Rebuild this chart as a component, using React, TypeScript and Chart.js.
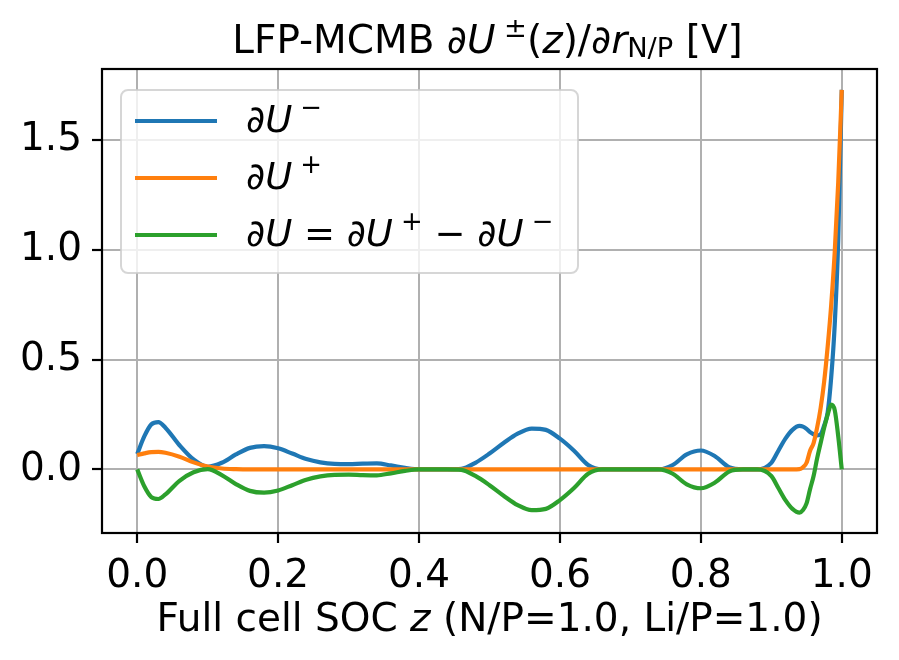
import React, { useEffect, useRef } from 'react';
import { Chart, registerables } from 'chart.js';

Chart.register(...registerables);

// Full cell SOC z (sample positions)
const socZ = [
  0, 0.01, 0.02, 0.03, 0.04, 0.06, 0.08, 0.10,
  0.12, 0.14, 0.16, 0.18, 0.20, 0.22, 0.24, 0.26, 0.28, 0.30, 0.32, 0.34, 0.36, 0.38, 0.40,
  0.42, 0.44, 0.46, 0.48, 0.50, 0.52, 0.54, 0.56, 0.58, 0.60, 0.62, 0.64, 0.66,
  0.70, 0.74,
  0.76, 0.78, 0.80, 0.82, 0.84, 0.86, 0.88, 0.90,
  0.91, 0.92, 0.93, 0.94,
  0.945, 0.95, 0.955, 0.96, 0.965, 0.97, 0.975, 0.98, 0.985, 0.99, 0.995, 1.0,
];

// dU- (blue)
const dUneg = [
  0.07, 0.15, 0.205, 0.215, 0.19, 0.11, 0.045, 0.012,
  0.03, 0.068, 0.098, 0.106, 0.096, 0.072, 0.047, 0.032, 0.025, 0.024, 0.026, 0.027, 0.018, 0.007, 0,
  0, 0, 0.002, 0.03, 0.072, 0.12, 0.163, 0.186, 0.18, 0.14, 0.085, 0.02, 0,
  0, 0,
  0.02, 0.068, 0.086, 0.06, 0.01, 0, 0, 0.03,
  0.085, 0.14, 0.18, 0.198,
  0.195, 0.185, 0.17, 0.16, 0.155, 0.16, 0.2, 0.26, 0.42, 0.66, 1.05, 1.73,
];

// dU+ (orange)
const dUpos = [
  0.065, 0.073, 0.079, 0.08, 0.076, 0.058, 0.032, 0.013,
  0.004, 0.001, 0, 0, 0, 0, 0, 0, 0, 0, 0, 0, 0, 0, 0,
  0, 0, 0, 0, 0, 0, 0, 0, 0, 0, 0, 0, 0,
  0, 0,
  0, 0, 0, 0, 0, 0, 0, 0,
  0, 0, 0, 0.001,
  0.01, 0.03, 0.085, 0.12, 0.19, 0.28, 0.4, 0.56, 0.75, 0.99, 1.31, 1.73,
];

// dU = dU+ - dU- (green)
const dUdiff = [
  0, -0.077, -0.126, -0.135, -0.114, -0.052, -0.013, 0.001,
  -0.026, -0.067, -0.098, -0.106, -0.096, -0.072, -0.047, -0.032, -0.025, -0.024, -0.026, -0.027, -0.018, -0.007, 0,
  0, 0, -0.002, -0.03, -0.072, -0.12, -0.163, -0.186, -0.18, -0.14, -0.085, -0.02, 0,
  0, 0,
  -0.02, -0.068, -0.086, -0.06, -0.01, 0, 0, -0.03,
  -0.085, -0.14, -0.18, -0.197,
  -0.185, -0.155, -0.09, -0.03, 0.05, 0.12, 0.19, 0.25, 0.295, 0.27, 0.15, 0,
];

const xTicks = [0, 0.2, 0.4, 0.6, 0.8, 1.0];
const yTicks = [0, 0.5, 1.0, 1.5];

const FONT = '"DejaVu Sans", "Liberation Sans", sans-serif';

type Seg = { t: string; it?: boolean; sup?: boolean; sub?: boolean };

const titleSegs: Seg[] = [
  { t: 'LFP-MCMB ' },
  { t: '∂U', it: true },
  { t: '±', sup: true },
  { t: '(' },
  { t: 'z', it: true },
  { t: ')/' },
  { t: '∂r', it: true },
  { t: 'N/P', sub: true },
  { t: ' [V]' },
];

const xLabelSegs: Seg[] = [
  { t: 'Full cell SOC ' },
  { t: 'z', it: true },
  { t: ' (N/P=1.0, Li/P=1.0)' },
];

const legendSegs: Seg[][] = [
  [{ t: '∂U', it: true }, { t: '−', sup: true }],
  [{ t: '∂U', it: true }, { t: '+', sup: true }],
  [
    { t: '∂U', it: true }, { t: ' = ' }, { t: '∂U', it: true }, { t: '+', sup: true },
    { t: ' − ' }, { t: '∂U', it: true }, { t: '−', sup: true },
  ],
];

const colors = ['#1f77b4', '#ff7f0e', '#2ca02c'];

function segFont(s: Seg, size: number) {
  const px = s.sup || s.sub ? size * 0.7 : size;
  return `${s.it ? 'italic ' : ''}${px}px ${FONT}`;
}

function segGap(s: Seg, size: number) {
  return s.sup ? size * 0.22 : 0;
}

function drawRich(ctx: CanvasRenderingContext2D, segs: Seg[], x: number, y: number, size: number, align: 'left' | 'center') {
  let total = 0;
  for (const s of segs) {
    ctx.font = segFont(s, size);
    total += segGap(s, size) + ctx.measureText(s.t).width;
  }
  let cx = align === 'center' ? x - total / 2 : x;
  ctx.textAlign = 'left';
  ctx.textBaseline = 'alphabetic';
  for (const s of segs) {
    ctx.font = segFont(s, size);
    cx += segGap(s, size);
    const dy = s.sup ? -size * 0.42 : s.sub ? size * 0.1 : 0;
    ctx.fillText(s.t, cx, y + dy);
    cx += ctx.measureText(s.t).width;
  }
}

const decorPlugin = {
  id: 'decor',
  afterDraw(chart: any) {
    const { ctx, chartArea: a } = chart;
    const mid = (a.left + a.right) / 2;
    ctx.save();

    // axes frame
    ctx.strokeStyle = '#000';
    ctx.lineWidth = 2.2;
    ctx.strokeRect(a.left, a.top, a.right - a.left, a.bottom - a.top);

    // title and x label
    ctx.fillStyle = '#000';
    drawRich(ctx, titleSegs, mid - 2, 53, 39, 'center');
    drawRich(ctx, xLabelSegs, mid, 631, 39, 'center');

    // legend
    const bx = a.left + 19;
    const by = a.top + 21;
    const bw = 457;
    const bh = 183;
    ctx.beginPath();
    ctx.roundRect(bx, by, bw, bh, 7);
    ctx.fillStyle = 'rgba(255,255,255,0.8)';
    ctx.fill();
    ctx.strokeStyle = 'rgba(204,204,204,0.8)';
    ctx.lineWidth = 2;
    ctx.stroke();

    legendSegs.forEach((segs, i) => {
      const ly = by + 31 + i * 57;
      ctx.beginPath();
      ctx.moveTo(bx + 14, ly);
      ctx.lineTo(bx + 96, ly);
      ctx.strokeStyle = colors[i];
      ctx.lineWidth = 4.2;
      ctx.stroke();
      ctx.fillStyle = '#000';
      drawRich(ctx, segs, bx + 125, by + 42 + i * 57, 37, 'left');
    });

    ctx.restore();
  },
};

const tickFont = { family: FONT, size: 39 };
const gridOpts = { color: '#b0b0b0', lineWidth: 2, tickColor: '#000', tickWidth: 2.2, tickLength: 10 };

const App: React.FC = () => {
  const canvasRef = useRef<HTMLCanvasElement>(null);
  const chartRef = useRef<Chart | null>(null);

  useEffect(() => {
    if (!canvasRef.current) return;
    const series = [dUneg, dUpos, dUdiff];
    const labels = ['∂U−', '∂U+', '∂U = ∂U+ − ∂U−'];

    chartRef.current = new Chart(canvasRef.current, {
      type: 'line',
      data: {
        datasets: series.map((vals, i) => ({
          label: labels[i],
          data: socZ.map((x, j) => ({ x, y: vals[j] })),
          borderColor: colors[i],
          backgroundColor: colors[i],
          borderWidth: 4.2,
          pointRadius: 0,
          cubicInterpolationMode: 'monotone' as const,
          fill: false,
          order: 3 - i,
        })),
      },
      options: {
        animation: false,
        responsive: false,
        events: [],
        layout: { padding: { left: 0, right: 22, top: 69, bottom: 0 } },
        plugins: {
          legend: { display: false },
          title: { display: false },
          tooltip: { enabled: false },
        },
        scales: {
          x: {
            type: 'linear',
            min: -0.05,
            max: 1.05,
            afterBuildTicks: (s: any) => { s.ticks = xTicks.map((v) => ({ value: v })); },
            afterFit: (s: any) => { s.height = 127; },
            grid: gridOpts,
            border: { display: false },
            ticks: {
              color: '#000',
              font: tickFont,
              padding: 10,
              maxRotation: 0,
              autoSkip: false,
              callback: (v: any) => Number(v).toFixed(1),
            },
          },
          y: {
            type: 'linear',
            min: -0.29,
            max: 1.825,
            afterBuildTicks: (s: any) => { s.ticks = yTicks.map((v) => ({ value: v })); },
            afterFit: (s: any) => { s.width = 102; },
            grid: gridOpts,
            border: { display: false },
            ticks: {
              color: '#000',
              font: tickFont,
              padding: 10,
              autoSkip: false,
              callback: (v: any) => Number(v).toFixed(1),
            },
          },
        },
      },
      plugins: [decorPlugin],
    });

    return () => {
      chartRef.current?.destroy();
      chartRef.current = null;
    };
  }, []);

  return (
    <div style={{ position: 'fixed', left: 0, top: 0, width: 899, height: 660, background: '#fff' }}>
      <canvas ref={canvasRef} width={899} height={660} />
    </div>
  );
};

export default App;
